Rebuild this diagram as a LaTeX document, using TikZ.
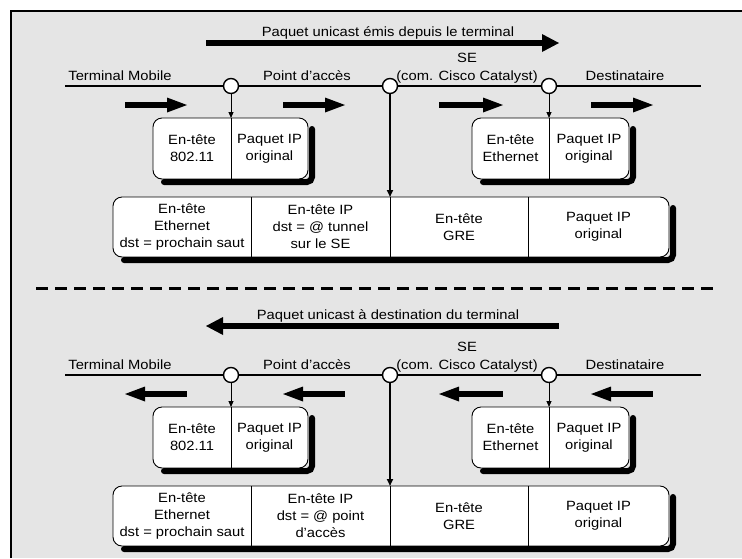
\documentclass[tikz,border=0pt]{standalone}
\usepackage{fontspec}
\setmainfont{Liberation Sans}[FakeStretch=1.1]
\usetikzlibrary{arrows.meta}

\begin{document}
\begin{tikzpicture}[x=1pt,y=-1pt,
  font=\fontsize{13.4}{17}\selectfont,
  lane/.style={line width=1.6pt},
  hub/.style={circle,draw,fill=white,line width=1.4pt,minimum size=15pt,inner sep=0pt},
  caption/.style={anchor=base,inner sep=0pt},
  packet/.style={draw,fill=white,rounded corners=9pt,line width=0.9pt,inner sep=0pt,outer sep=0pt},
  cell/.style={inner sep=0pt,outer sep=0pt,align=center},
  divider/.style={line width=0.9pt},
  rim/.style={draw=black,line width=6pt,line cap=round,rounded corners=5pt},
  small fwd/.style={line width=6pt,-{Triangle[length=20pt,width=15pt,line width=0pt]}},
  small bwd/.style={line width=6pt,{Triangle[length=20pt,width=15pt,line width=0pt]}-},
  big fwd/.style={line width=6pt,-{Triangle[length=17pt,width=18pt,line width=0pt]}},
  big bwd/.style={line width=6pt,{Triangle[length=17pt,width=18pt,line width=0pt]}-},
  drop/.style={line width=1pt,-{Triangle[length=6pt,width=5pt]}},
  trunk/.style={line width=1.8pt,-{Triangle[length=7pt,width=6pt]}}]

\useasboundingbox (0,0) rectangle (742,558);

% panel background and its frame
\path[fill=gray!20] (11,11) rectangle (742,558);
\draw[line width=2pt] (11,558) -- (11,11) -- (742,11);

% separator between the two flows
\coordinate (sepL) at (36,288);
\coordinate (sepR) at (717,288);
\draw[line width=3pt,dash pattern=on 12pt off 7pt] (sepL) -- (sepR);

\foreach \s/\oy/\ty/\way/\title/\ipdst in {
  a/0/0/fwd/{Paquet unicast émis depuis le terminal}/{dst = @ tunnel\\sur le SE},
  b/289/283/bwd/{Paquet unicast à destination du terminal}/{dst = @ point\\d’accès}}
{
  % overall direction of the flow
  \node[caption] (title\s) at (388,36+\ty) {\title};
  \coordinate (bigL\s) at (206,43+\ty);
  \coordinate (bigR\s) at (559,43+\ty);
  \draw[big \way] (bigL\s) -- (bigR\s);

  % network path with its three hops
  \coordinate (west\s) at (65,86+\oy);
  \coordinate (east\s) at (701,86+\oy);
  \draw[lane] (west\s) -- (east\s);
  \node[hub] (ap\s) at (231,86+\oy) {};
  \node[hub] (se\s) at (390,86+\oy) {};
  \node[hub] (dst\s) at (549,86+\oy) {};

  \node[caption] (tm\s) at (120,80.5+\oy) {Terminal Mobile};
  \node[caption] (apl\s) at (307,80.5+\oy) {Point d’accès};
  \node[caption] (sename\s) at (467,62.5+\oy) {SE};
  \node[caption] (secat\s) at (467,80.5+\oy) {(com. Cisco Catalyst)};
  \node[caption] (dl\s) at (625,80.5+\oy) {Destinataire};

  % per-segment direction arrows
  \foreach \i/\xa/\xb in {1/125/187,2/283/345,3/439/503,4/591/653}{
    \coordinate (fa\s\i) at (\xa,105+\oy);
    \coordinate (fb\s\i) at (\xb,105+\oy);
    \draw[small \way] (fa\s\i) -- (fb\s\i);
  }

  % 802.11 frame on the wireless side
  \node[packet,minimum width=155pt,minimum height=61pt,anchor=north west] (wl\s) at (153,118+\oy) {};
  \node[cell,minimum width=78pt,minimum height=61pt,anchor=north west] (wlx\s) at (wl\s.north west) {En-tête\\802.11};
  \node[cell,minimum width=77pt,minimum height=61pt,anchor=north east] (wly\s) at (wl\s.north east) {Paquet IP\\original};
  \draw[divider] (wlx\s.north east) -- (wlx\s.south east);

  % Ethernet frame on the wired side
  \node[packet,minimum width=157pt,minimum height=61pt,anchor=north west] (et\s) at (472,118+\oy) {};
  \node[cell,minimum width=77pt,minimum height=61pt,anchor=north west] (etx\s) at (et\s.north west) {En-tête\\Ethernet};
  \node[cell,minimum width=80pt,minimum height=61pt,anchor=north east] (ety\s) at (et\s.north east) {Paquet IP\\original};
  \draw[divider] (etx\s.north east) -- (etx\s.south east);

  % GRE-encapsulated packet in the tunnel
  \node[packet,minimum width=556pt,minimum height=60pt,anchor=north west] (gr\s) at (113,197+\oy) {};
  \node[cell,minimum width=138pt,minimum height=60pt,anchor=north west] (grw\s) at (gr\s.north west) {En-tête\\Ethernet\\dst = prochain saut};
  \node[cell,minimum width=139pt,minimum height=60pt,anchor=north west] (grx\s) at (grw\s.north east) {En-tête IP\\\ipdst};
  \node[cell,minimum width=138pt,minimum height=60pt,anchor=north west] (gry\s) at (grx\s.north east) {En-tête\\GRE};
  \node[cell,minimum width=141pt,minimum height=60pt,anchor=north west] (grz\s) at (gry\s.north east) {Paquet IP\\original};
  \draw[divider] (grw\s.north east) -- (grw\s.south east);
  \draw[divider] (grx\s.north east) -- (grx\s.south east);
  \draw[divider] (gry\s.north east) -- (gry\s.south east);

  % solid shadow bands along the right and bottom edges of each frame
  \foreach \p in {wl,et,gr}{
    \draw[rim] ([shift={(4pt,-11pt)}]\p\s.north east)
      -- ([shift={(4pt,-3pt)}]\p\s.south east)
      -- ([shift={(11pt,-3pt)}]\p\s.south west);
  }

  % taps from the hops down to the frames
  \draw[drop] (ap\s) -- (wlx\s.north east);
  \draw[drop] (dst\s) -- (etx\s.north east);
  \draw[trunk] (se\s) -- (grx\s.north east);
}
\end{tikzpicture}
\end{document}
